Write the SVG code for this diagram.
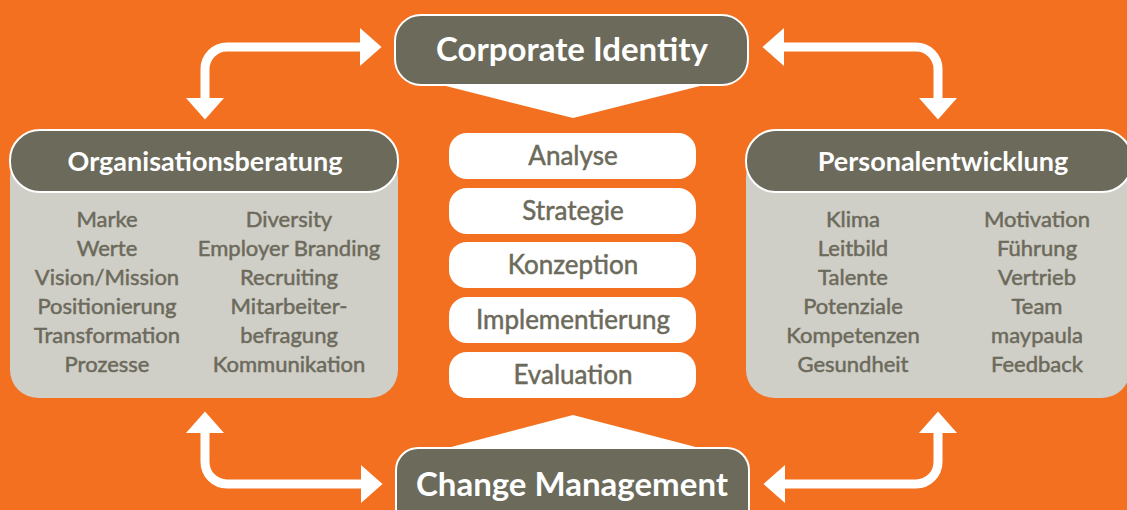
<svg xmlns="http://www.w3.org/2000/svg" width="1127" height="510" viewBox="0 0 1127 510">
<style>
.title{font-family:Lato,"Liberation Sans",sans-serif;font-weight:bold;fill:#ffffff;text-anchor:middle}
.big{font-size:33px}
.head{font-size:27px}
.item{font-family:Lato,"Liberation Sans",sans-serif;font-size:22px;fill:#6c6a5b;stroke:#6c6a5b;stroke-width:0.5;text-anchor:middle}
.step{font-family:Lato,"Liberation Sans",sans-serif;font-size:26px;fill:#6c6a5b;stroke:#6c6a5b;stroke-width:0.5;text-anchor:middle}
.dark{fill:#6c6a5b;stroke:#ffffff;stroke-width:2}
.body{fill:#cfcec7}
.pill{fill:#ffffff}
.conn{fill:none;stroke:#ffffff;stroke-width:9}
</style>
<defs>
<marker id="ah" markerUnits="userSpaceOnUse" markerWidth="24" markerHeight="40" viewBox="0 -20 22 40" refX="0" refY="0" orient="auto-start-reverse">
<path d="M0,-19 L21.5,0 L0,19 Z" fill="#ffffff"/>
</marker>
</defs>
<rect x="0" y="0" width="1127" height="510" fill="#f37021"/>

<g id="connectors">
<path class="conn" d="M205,98 V69 A22,22 0 0 1 227,47 H360" marker-start="url(#ah)" marker-end="url(#ah)"/>
<path class="conn" d="M784,47 H916 A22,22 0 0 1 938,69 V98" marker-start="url(#ah)" marker-end="url(#ah)"/>
<path class="conn" d="M205,433 V462 A22,22 0 0 0 227,484 H361" marker-start="url(#ah)" marker-end="url(#ah)"/>
<path class="conn" d="M785,484 H916 A22,22 0 0 0 938,462 V433" marker-start="url(#ah)" marker-end="url(#ah)"/>
</g>

<g id="corporate-identity">
<polygon points="438,84 573,118 708,84" fill="#ffffff"/>
<rect class="dark" x="395" y="15" width="353" height="70" rx="26"/>
<text class="title big" x="572" y="61">Corporate Identity</text>
</g>

<g id="change-management">
<polygon points="436,451 573,415 711,451" fill="#ffffff"/>
<rect class="dark" x="396" y="448" width="353" height="90" rx="22"/>
<text class="title big" x="572" y="496">Change Management</text>
</g>

<g id="organisationsberatung">
<rect class="body" x="10" y="150" width="388" height="248" rx="28"/>
<rect class="dark" x="10" y="130" width="388" height="62" rx="30"/>
<text class="title head" x="205" y="171">Organisationsberatung</text>
<text class="item" x="107" y="227">Marke</text>
<text class="item" x="107" y="256">Werte</text>
<text class="item" x="107" y="285">Vision/Mission</text>
<text class="item" x="107" y="314">Positionierung</text>
<text class="item" x="107" y="343">Transformation</text>
<text class="item" x="107" y="372">Prozesse</text>
<text class="item" x="289" y="227">Diversity</text>
<text class="item" x="289" y="256">Employer Branding</text>
<text class="item" x="289" y="285">Recruiting</text>
<text class="item" x="289" y="314">Mitarbeiter-</text>
<text class="item" x="289" y="343">befragung</text>
<text class="item" x="289" y="372">Kommunikation</text>
</g>

<g id="personalentwicklung">
<rect class="body" x="746" y="150" width="384" height="248" rx="28"/>
<rect class="dark" x="746" y="130" width="386" height="62" rx="30"/>
<text class="title head" x="943" y="171">Personalentwicklung</text>
<text class="item" x="853" y="227">Klima</text>
<text class="item" x="853" y="256">Leitbild</text>
<text class="item" x="853" y="285">Talente</text>
<text class="item" x="853" y="314">Potenziale</text>
<text class="item" x="853" y="343">Kompetenzen</text>
<text class="item" x="853" y="372">Gesundheit</text>
<text class="item" x="1037" y="227">Motivation</text>
<text class="item" x="1037" y="256">Führung</text>
<text class="item" x="1037" y="285">Vertrieb</text>
<text class="item" x="1037" y="314">Team</text>
<text class="item" x="1037" y="343">maypaula</text>
<text class="item" x="1037" y="372">Feedback</text>
</g>

<g id="analyse">
<rect class="pill" x="449" y="133" width="247" height="46" rx="18"/>
<text class="step" x="573" y="165">Analyse</text>
</g>
<g id="strategie">
<rect class="pill" x="449" y="188" width="247" height="46" rx="18"/>
<text class="step" x="573" y="220">Strategie</text>
</g>
<g id="konzeption">
<rect class="pill" x="449" y="242" width="247" height="46" rx="18"/>
<text class="step" x="573" y="274">Konzeption</text>
</g>
<g id="implementierung">
<rect class="pill" x="449" y="297" width="247" height="46" rx="18"/>
<text class="step" x="573" y="329">Implementierung</text>
</g>
<g id="evaluation">
<rect class="pill" x="449" y="352" width="247" height="46" rx="18"/>
<text class="step" x="573" y="384">Evaluation</text>
</g>
</svg>
